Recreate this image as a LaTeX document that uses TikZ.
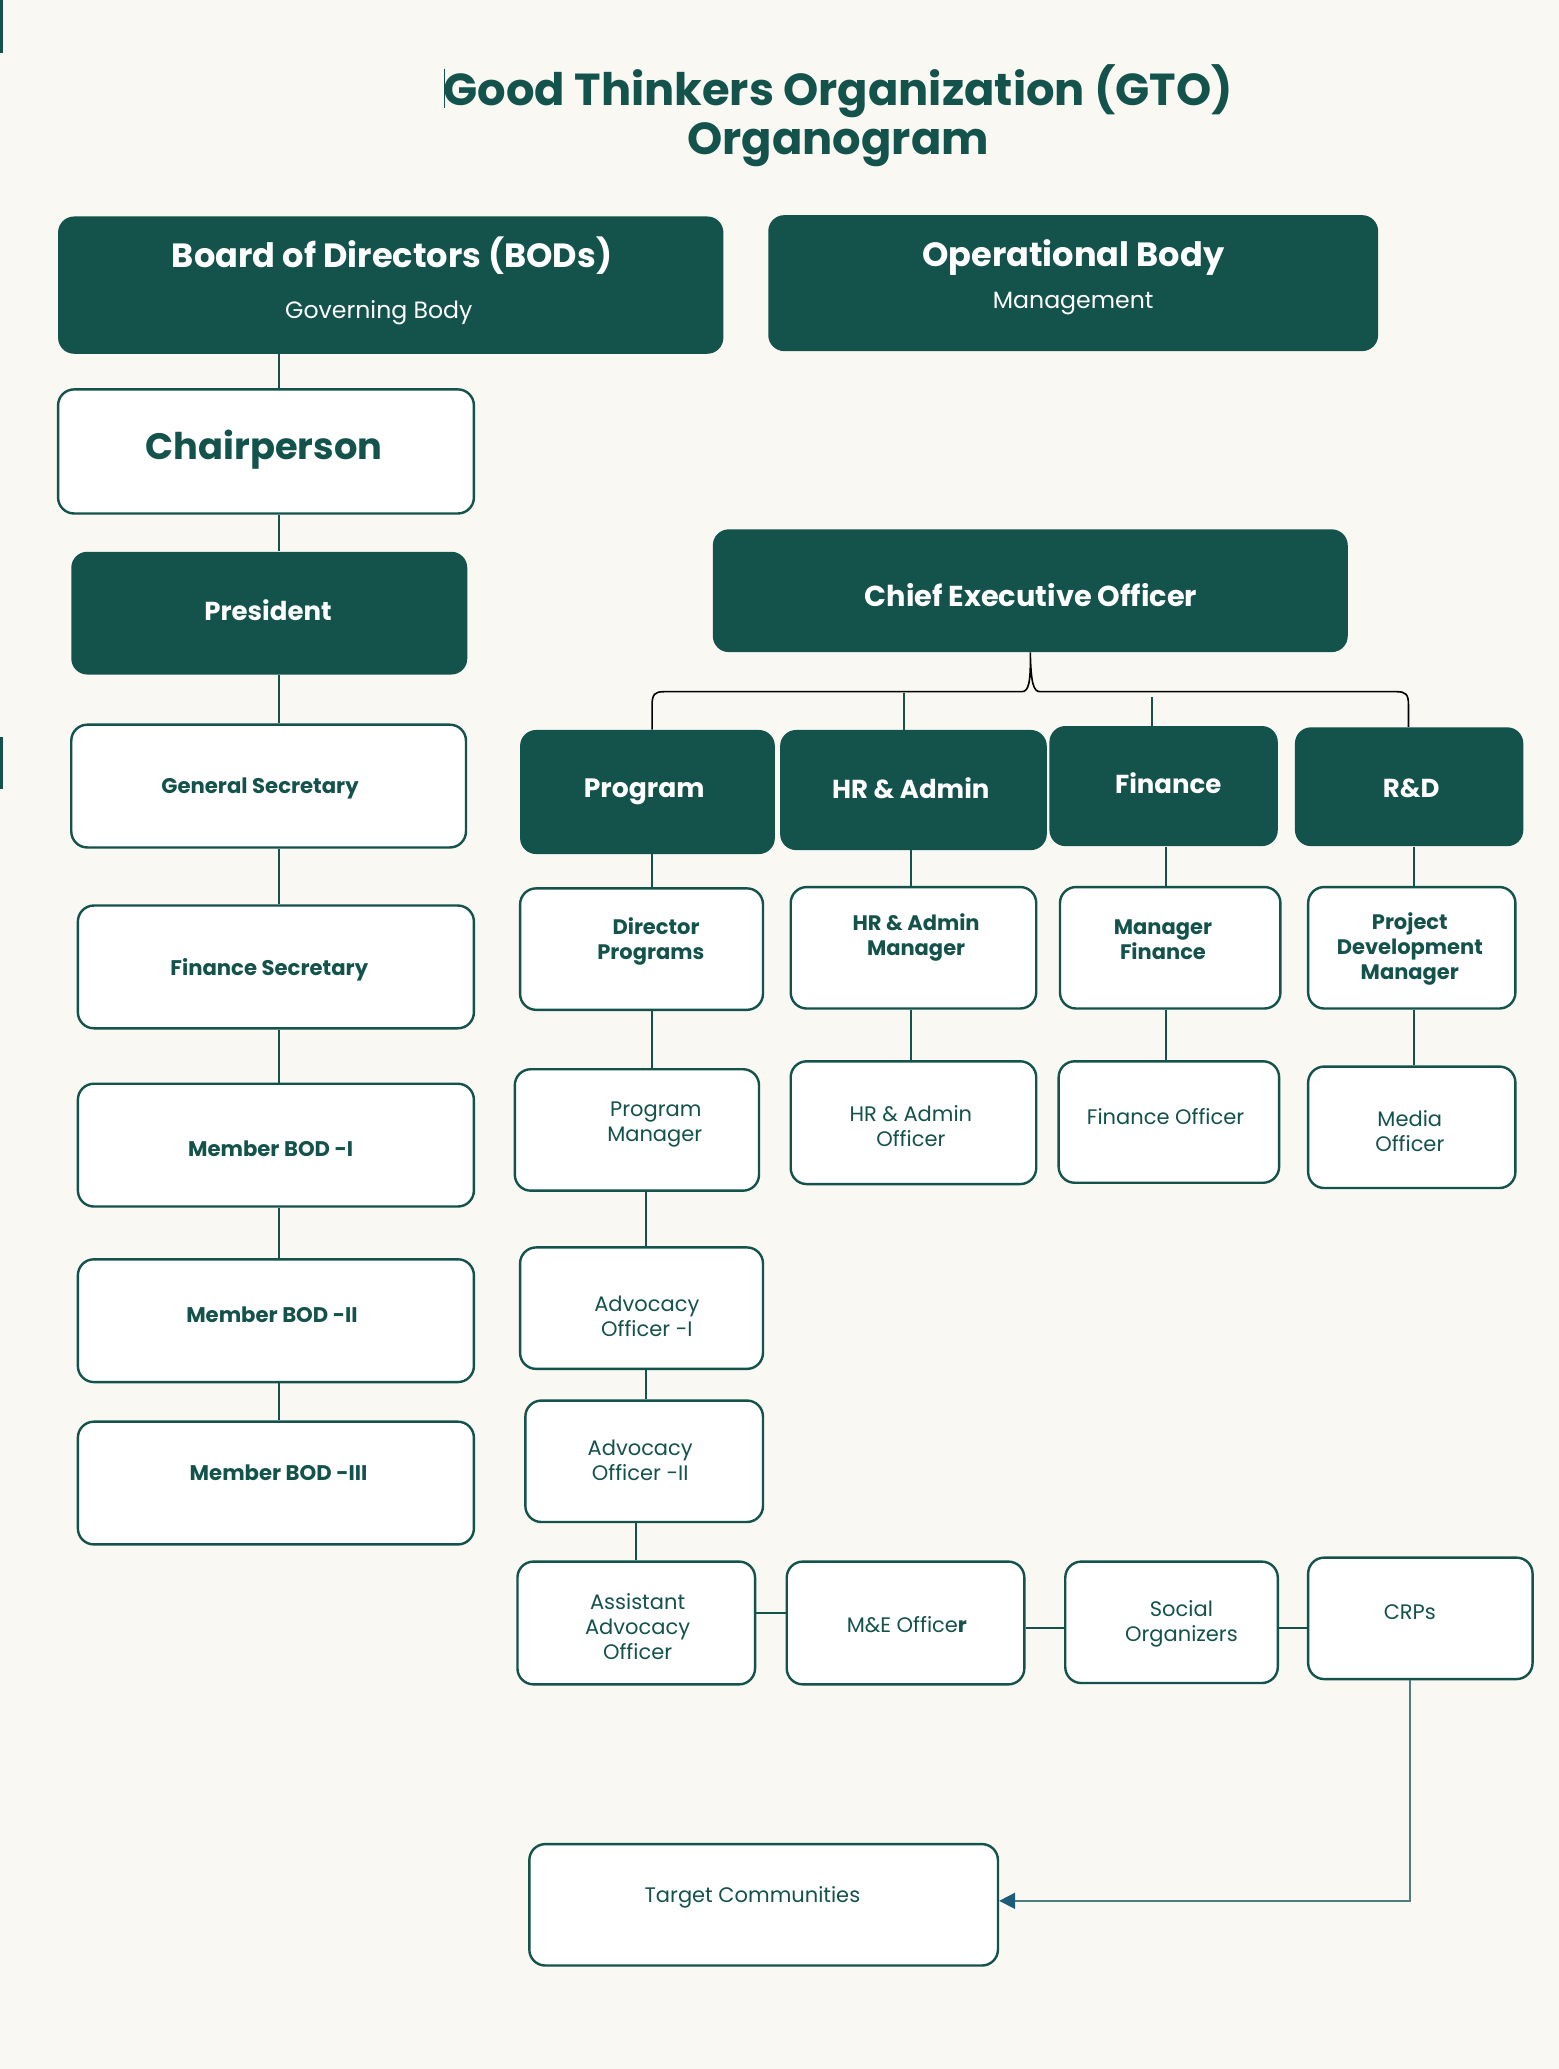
\documentclass[tikz,border=0pt]{standalone}
\usepackage{fontspec}
\setmainfont{Poppins}
\usetikzlibrary{fit,arrows.meta,calc}
\definecolor{gteal}{HTML}{14524C}
\definecolor{gbg}{HTML}{F9F8F3}
\definecolor{garrow}{HTML}{4E7C80}
\definecolor{gtip}{HTML}{1E5A7A}
\tikzset{
  dbox/.style={fill=gteal, draw=none, rounded corners=8pt, inner sep=0pt},
  wbox/.style={fill=white, draw=gteal, line width=1.2pt, rounded corners=8pt, inner sep=0pt},
  wt/.style={text=white, align=center, inner sep=0pt},
  dt/.style={text=gteal, align=center, inner sep=0pt},
  conn/.style={draw=gteal, line width=1pt},
  bracepath/.style={draw=black, line width=0.8pt},
  arrowline/.style={draw=garrow, line width=0.9pt, -{Triangle[length=8pt,width=8pt,fill=gtip,color=gtip]}},
}
\begin{document}
\begin{tikzpicture}[x=0.66pt,y=-0.66pt]
\fill[gbg] (0,0) rectangle (1181,1567.4);
\useasboundingbox (0,0) rectangle (1181,1567.4);
% small marks at the left edge
\fill[gteal] (0,0) rectangle (2,40);
\fill[gteal] (0,558) rectangle (2,598);
\draw[gteal, line width=0.6pt] (337,52) -- (337,82);
% title
\node[dt, font=\bfseries\fontsize{22.4}{26}\selectfont] (title1) at (635,69) {Good Thinkers Organization (GTO)};
\node[dt, font=\bfseries\fontsize{22.4}{26}\selectfont] (title2) at (635,110) {Organogram};

% top boxes
\node[dbox, fit={(44,164) (548,268)}] (bod) {};
\node[wt, font=\bfseries\fontsize{16.8}{20}\selectfont] (bodt) at (297,194) {Board of Directors (BODs)};
\node[wt, font=\fontsize{11.8}{14}\selectfont] (bods) at (287,237) {Governing Body};
\node[dbox, fit={(582,163) (1044,266)}] (op) {};
\node[wt, font=\bfseries\fontsize{16.8}{20}\selectfont] (opt) at (813,195) {Operational Body};
\node[wt, font=\fontsize{11.8}{14}\selectfont] (ops) at (813,230) {Management};

% left column
\node[wbox, fit={(44,295) (359,389)}] (chair) {};
\node[dt, font=\bfseries\fontsize{18.4}{21}\selectfont] (chairt) at (200,341) {Chairperson};
\node[dbox, fit={(54,418) (354,511)}] (pres) {};
\node[wt, font=\bfseries\fontsize{13}{15}\selectfont] (prest) at (203,462) {President};
\node[wbox, fit={(54,549) (353,642)}] (gs) {};
\node[dt, font=\bfseries\fontsize{10.6}{12}\selectfont] (gst) at (197,597) {General Secretary};
\node[wbox, fit={(59,686) (359,779)}] (fs) {};
\node[dt, font=\bfseries\fontsize{10.6}{12}\selectfont] (fst) at (204,735) {Finance Secretary};
\node[wbox, fit={(59,821) (359,914)}] (m1) {};
\node[dt, font=\bfseries\fontsize{10.6}{12}\selectfont] (m1t) at (205,870) {Member BOD -I};
\node[wbox, fit={(59,954) (359,1047)}] (m2) {};
\node[dt, font=\bfseries\fontsize{10.6}{12}\selectfont] (m2t) at (206,996) {Member BOD -II};
\node[wbox, fit={(59,1077) (359,1170)}] (m3) {};
\node[dt, font=\bfseries\fontsize{10.6}{12}\selectfont] (m3t) at (211,1116) {Member BOD -III};

\coordinate (colL) at (211,0);
\draw[conn] (bod.south -| colL) -- (chair.north -| colL);
\draw[conn] (chair.south -| colL) -- (pres.north -| colL);
\draw[conn] (pres.south -| colL) -- (gs.north -| colL);
\draw[conn] (gs.south -| colL) -- (fs.north -| colL);
\draw[conn] (fs.south -| colL) -- (m1.north -| colL);
\draw[conn] (m1.south -| colL) -- (m2.north -| colL);
\draw[conn] (m2.south -| colL) -- (m3.north -| colL);

% CEO
\node[dbox, fit={(540,401) (1021,494)}] (ceo) {};
\node[wt, font=\bfseries\fontsize{14.4}{17}\selectfont] (ceot) at (781,451) {Chief Executive Officer};

% departments
\node[dbox, fit={(394,553) (587,647)}] (prog) {};
\node[wt, font=\bfseries\fontsize{13.3}{16}\selectfont] (progt) at (488,600) {Program};
\node[dbox, fit={(591,553) (793,644)}] (hr) {};
\node[wt, font=\bfseries\fontsize{13}{16}\selectfont] (hrt) at (690,597) {HR \& Admin};
\node[dbox, fit={(795,550) (968,641)}] (fin) {};
\node[wt, font=\bfseries\fontsize{13}{16}\selectfont] (fint) at (885,593) {Finance};
\node[dbox, fit={(981,551) (1154,641)}] (rd) {};
\node[wt, font=\bfseries\fontsize{13}{16}\selectfont] (rdt) at (1069,597) {R\&D};

% brace from CEO
\coordinate (bl) at (494,524);
\coordinate (br) at (1067,524);
\draw[bracepath] (prog.north -| bl) -- (494,534) .. controls (494,526) and (496,524) .. (503,524)
  -- (774,524) .. controls (779,524) and (781,518) .. (ceo.south)
  .. controls (781,518) and (783,524) .. (788,524)
  -- (1058,524) .. controls (1065,524) and (1067,526) .. (1067,534) -- (rd.north -| br);
\coordinate (chr) at (685,525);
\coordinate (chf) at (873,528);
\draw[conn] (chr) -- (hr.north -| chr);
\draw[conn] (chf) -- (fin.north -| chf);

% second row
\node[wbox, fit={(394,673) (578,765)}] (dp) {};
\node[dt, font=\bfseries\fontsize{10.5}{12.5}\selectfont] (dpt) at (493,713) {\hspace*{0.5em}Director\\Programs};
\node[wbox, fit={(599,672) (785,764)}] (hrm) {};
\node[dt, font=\bfseries\fontsize{10.5}{12.5}\selectfont] (hrmt) at (694,710) {HR \& Admin\\Manager};
\node[wbox, fit={(803,672) (970,764)}] (mf) {};
\node[dt, font=\bfseries\fontsize{10.5}{12.5}\selectfont] (mft) at (881,712) {Manager\\Finance};
\node[wbox, fit={(991,672) (1148,764)}] (pdm) {};
\node[dt, font=\bfseries\fontsize{10.5}{12.5}\selectfont] (pdmt) at (1068,719) {Project\\Development\\Manager};

\coordinate (cP) at (494,0);
\coordinate (cH) at (690,0);
\coordinate (cF) at (883,0);
\coordinate (cR) at (1071,0);
\draw[conn] (prog.south -| cP) -- (dp.north -| cP);
\draw[conn] (hr.south -| cH) -- (hrm.north -| cH);
\draw[conn] (fin.south -| cF) -- (mf.north -| cF);
\draw[conn] (rd.south -| cR) -- (pdm.north -| cR);

% third row
\node[wbox, fit={(390,810) (575,902)}] (pm) {};
\node[dt, font=\fontsize{10.5}{12.5}\selectfont] (pmt) at (496,852) {\hspace*{0.1em}Program\\Manager};
\node[wbox, fit={(599,804) (785,897)}] (hro) {};
\node[dt, font=\fontsize{10.5}{12.5}\selectfont] (hrot) at (690,853) {HR \& Admin\\Officer};
\node[wbox, fit={(802,804) (969,896)}] (fo) {};
\node[dt, font=\fontsize{10.5}{12.5}\selectfont] (fot) at (883,846) {Finance Officer};
\node[wbox, fit={(991,808) (1148,900)}] (mo) {};
\node[dt, font=\fontsize{10.5}{12.5}\selectfont] (mot) at (1068,857) {Media\\Officer};

\draw[conn] (dp.south -| cP) -- (pm.north -| cP);
\draw[conn] (hrm.south -| cH) -- (hro.north -| cH);
\draw[conn] (mf.south -| cF) -- (fo.north -| cF);
\draw[conn] (pdm.south -| cR) -- (mo.north -| cR);

% program chain
\node[wbox, fit={(394,945) (578,1037)}] (ao1) {};
\node[dt, font=\fontsize{10.5}{12.5}\selectfont] (ao1t) at (490,997) {Advocacy\\Officer -I};
\node[wbox, fit={(398,1061) (578,1153)}] (ao2) {};
\node[dt, font=\fontsize{10.5}{12.5}\selectfont] (ao2t) at (485,1106) {Advocacy\\Officer -II};
\node[wbox, fit={(392,1183) (572,1276)}] (aao) {};
\node[dt, font=\fontsize{10.5}{12.5}\selectfont] (aaot) at (483,1232) {Assistant\\Advocacy\\Officer};
\coordinate (cA) at (489,0);
\coordinate (cB) at (482,0);
\draw[conn] (pm.south -| cA) -- (ao1.north -| cA);
\draw[conn] (ao1.south -| cA) -- (ao2.north -| cA);
\draw[conn] (ao2.south -| cB) -- (aao.north -| cB);

% bottom row
\node[wbox, fit={(596,1183) (776,1276)}] (me) {};
\node[dt, font=\fontsize{10.5}{12.5}\selectfont] (met) at (687,1231) {M\&E Office\textbf{r}};
\node[wbox, fit={(807,1183) (968,1275)}] (so) {};
\node[dt, font=\fontsize{10.5}{12.5}\selectfont] (sot) at (895,1230) {Social\\Organizers};
\node[wbox, fit={(991,1180) (1161,1272)}] (crp) {};
\node[dt, font=\fontsize{10.5}{12.5}\selectfont] (crpt) at (1068,1221) {CRPs};
\coordinate (r1) at (0,1222);
\coordinate (r2) at (0,1233);
\draw[conn] (aao.east |- r1) -- (me.west |- r1);
\draw[conn] (me.east |- r2) -- (so.west |- r2);
\draw[conn] (so.east |- r2) -- (crp.west |- r2);

% target communities
\node[wbox, fit={(401,1397) (756,1489)}] (tc) {};
\node[dt, font=\fontsize{10.5}{12.5}\selectfont] (tct) at (570,1437) {Target Communities};
\coordinate (cC) at (1068,0);
\coordinate (cT) at (0,1440);
\draw[arrowline] (crp.south -| cC) -- (cC |- cT) -- (tc.east |- cT);
\end{tikzpicture}
\end{document}
